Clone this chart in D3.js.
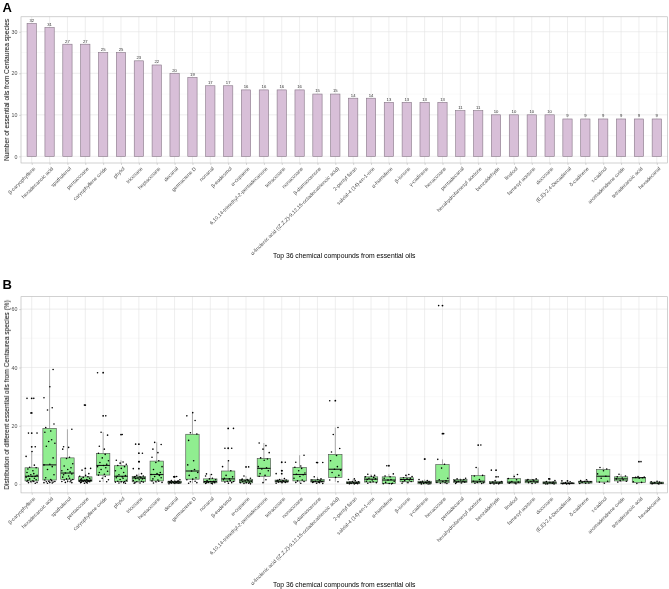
<!DOCTYPE html>
<html>
<head>
<meta charset="utf-8">
<script src="https://cdn.jsdelivr.net/npm/d3@7"></script>
<style>
  body { margin: 0; background: #fff; }
  text { font-family: "Liberation Sans", Arial, sans-serif; }
  .labels { opacity: 0.999; will-change: transform; }
</style>
</head>
<body>
<svg id="chart"></svg>
<script>
// compounds, in the order of the bars
const compounds = [
  'β-caryophyllene', 'hexadecanoic acid', 'spathulenol', 'pentacosane', 'caryophyllene oxide',
  'phytol', 'tricosane', 'heptacosane', 'decanal', 'germacrene D', 'nonanal', 'β-eudesmol',
  'α-copaene', '6,10,14-trimethyl-2-pentadecanone', 'tetracosane', 'nonacosane', 'β-damascenone',
  'α-linolenic acid ((Z,Z,Z)-9,12,15-octadecatrienoic acid)', '2-pentyl furan', 'salvial-4 (14)-en-1-one',
  'α-humulene', 'β-ionone', 'γ-cadinene', 'hexacosane', 'pentadecanal', 'hexahydrofarnesyl acetone',
  'benzaldehyde', 'linalool', 'farnesyl acetone', 'docosane', '(E,E)-2,4-Decadienal', 'δ-cadinene',
  'τ-cadinol', 'aromadendrene oxide', 'tetradecanoic acid', 'hexadecanal'
];

// panel A: number of oils containing each compound
const oilCounts = [32, 31, 27, 27, 25, 25, 23, 22, 20, 19, 17, 17, 16, 16, 16, 16, 15, 15,
  14, 14, 13, 13, 13, 13, 11, 11, 10, 10, 10, 10, 9, 9, 9, 9, 9, 9];

// panel B: box stats (%)
const boxLow    = [0.3, 0.3, 0.5, 0.3, 0.8, 0.3, 0.3, 0.4, 0.1, 0.3, 0.1, 0.3, 0.1, 0.5, 0.3, 0.3, 0.2, 0.8,
  0.05, 0.3, 0.1, 0.3, 0.05, 0.2, 0.2, 0.2, 0.05, 0.1, 0.2, 0.05, 0.05, 0.2, 0.3, 0.7, 0.2, 0.05];
const boxQ1     = [1.1, 1.4, 1.6, 0.9, 3.1, 0.9, 0.8, 1.1, 0.35, 1.7, 0.45, 1.0, 0.45, 2.7, 0.7, 1.1, 0.7, 2.3,
  0.15, 0.7, 0.2, 0.8, 0.1, 0.45, 0.6, 0.45, 0.2, 0.35, 0.45, 0.1, 0.1, 0.35, 0.7, 1.1, 0.6, 0.1];
const boxMedian = [2.7, 6.6, 3.8, 1.3, 6.4, 2.7, 2.1, 3.3, 0.7, 4.5, 0.9, 1.8, 1.1, 5.4, 1.0, 3.3, 1.0, 5.1,
  0.45, 1.7, 1.4, 1.6, 0.6, 1.1, 1.0, 1.0, 0.45, 0.7, 1.0, 0.45, 0.25, 0.8, 2.7, 1.8, 2.2, 0.35];
const boxQ3     = [5.6, 19.1, 9.0, 2.5, 10.5, 6.3, 2.6, 7.9, 1.0, 17.1, 1.8, 4.5, 1.6, 8.8, 1.4, 5.7, 1.6, 10.2,
  0.8, 2.5, 2.5, 2.2, 1.0, 6.7, 1.6, 2.9, 0.9, 1.9, 1.5, 0.8, 0.45, 1.0, 5.0, 2.5, 2.3, 0.7];
const boxHigh   = [11.2, 39.3, 18.8, 4.8, 17.8, 8.2, 3.6, 14.3, 1.5, 24.5, 3.5, 8.0, 2.8, 14.1, 1.9, 9.9, 2.5, 19.4,
  1.8, 3.4, 3.5, 3.3, 1.6, 8.5, 2.0, 5.7, 1.2, 3.3, 1.8, 1.2, 0.8, 1.5, 5.7, 3.4, 2.6, 1.0];

const outlierValues = [
  [12.8, 17.5, 24.4, 29.4], [], [], [5.4, 27.1], [23.4, 38.2], [17.0], [5.3, 7.7, 10.6, 13.7], [],
  [2.5, 2.6], [], [], [12.3, 19.1], [5.9], [], [3.6, 4.6, 7.5], [], [7.4], [28.6],
  [], [], [6.3], [], [8.6], [17.3, 61.2], [], [13.4], [2.5, 4.8], [], [], [1.8], [1.1], [],
  [], [], [7.7], []
];

// panel B: individual oils (%)
const sharePoints = [
  [29.4, 29.4, 24.4, 17.5, 17.5, 12.8, 11.2, 9.5, 6.5, 5.8, 5.6, 5.2, 4.6, 4.0, 3.6, 3.2, 3.0, 2.8, 2.7, 2.6, 2.4, 2.0, 1.8, 1.5, 1.3, 1.1, 1.0, 0.9, 0.8, 0.6, 0.5, 0.3],
  [39.3, 33.4, 29.6, 26.2, 25.4, 20.6, 19.4, 18.2, 17.8, 15.2, 14.6, 14.0, 13.0, 9.0, 6.8, 6.6, 6.0, 5.0, 3.2, 2.2, 1.6, 1.4, 1.2, 1.0, 0.9, 0.8, 0.7, 0.6, 0.5, 0.4, 0.3],
  [18.8, 12.8, 12.6, 12.0, 9.2, 8.8, 7.0, 6.2, 5.6, 5.0, 4.6, 4.2, 3.8, 3.5, 3.2, 2.8, 2.4, 2.0, 1.8, 1.6, 1.4, 1.2, 1.0, 0.9, 0.8, 0.6, 0.5],
  [27.1, 5.4, 4.8, 3.6, 3.0, 2.7, 2.5, 2.3, 2.0, 1.8, 1.6, 1.5, 1.4, 1.3, 1.3, 1.2, 1.1, 1.0, 1.0, 0.9, 0.9, 0.8, 0.7, 0.6, 0.5, 0.4, 0.3],
  [38.2, 23.4, 17.8, 16.8, 13.0, 12.0, 10.6, 10.2, 9.0, 8.0, 7.4, 6.8, 6.4, 6.0, 5.6, 5.0, 4.4, 4.0, 3.4, 3.1, 2.6, 2.0, 1.5, 1.0, 0.8],
  [17.0, 8.2, 7.6, 7.2, 6.8, 6.4, 6.0, 5.4, 4.6, 4.0, 3.2, 2.9, 2.7, 2.5, 2.2, 2.0, 1.6, 1.3, 1.0, 0.9, 0.8, 0.7, 0.5, 0.4, 0.3],
  [13.7, 10.6, 7.7, 5.3, 3.6, 3.0, 2.8, 2.6, 2.5, 2.4, 2.2, 2.1, 2.0, 1.9, 1.8, 1.5, 1.2, 1.0, 0.8, 0.7, 0.5, 0.4, 0.3],
  [14.3, 13.6, 12.0, 10.8, 9.2, 8.0, 7.4, 6.0, 5.0, 4.0, 3.6, 3.3, 3.0, 2.6, 2.2, 1.8, 1.4, 1.1, 1.0, 0.8, 0.6, 0.4],
  [2.6, 2.5, 1.5, 1.2, 1.1, 1.0, 0.9, 0.9, 0.8, 0.8, 0.7, 0.7, 0.6, 0.5, 0.5, 0.4, 0.35, 0.3, 0.2, 0.1],
  [24.5, 23.4, 21.8, 17.6, 17.2, 15.0, 8.0, 6.6, 5.0, 4.5, 4.0, 3.0, 2.2, 1.7, 1.5, 1.0, 0.8, 0.5, 0.3],
  [3.5, 3.3, 2.8, 2.0, 1.8, 1.5, 1.2, 1.0, 0.9, 0.8, 0.7, 0.6, 0.5, 0.45, 0.3, 0.2, 0.1],
  [19.1, 12.3, 12.3, 8.0, 6.0, 4.6, 3.0, 2.5, 2.0, 1.8, 1.5, 1.2, 1.0, 0.9, 0.7, 0.5, 0.3],
  [5.9, 2.8, 2.0, 1.7, 1.6, 1.4, 1.2, 1.1, 1.0, 0.9, 0.7, 0.5, 0.45, 0.3, 0.2, 0.1],
  [14.1, 13.2, 12.0, 10.8, 9.0, 8.6, 8.2, 6.0, 5.6, 5.2, 4.6, 3.6, 3.0, 2.7, 1.5, 0.5],
  [7.5, 4.6, 3.6, 1.9, 1.6, 1.4, 1.3, 1.2, 1.1, 1.0, 0.9, 0.8, 0.7, 0.6, 0.5, 0.3],
  [9.9, 7.5, 6.2, 5.8, 5.4, 4.6, 3.8, 3.4, 3.2, 2.6, 2.0, 1.4, 1.1, 0.9, 0.6, 0.3],
  [7.4, 7.4, 2.5, 1.8, 1.6, 1.4, 1.2, 1.0, 0.9, 0.8, 0.7, 0.6, 0.5, 0.3, 0.2],
  [28.6, 19.4, 17.0, 12.2, 11.0, 9.8, 8.0, 6.0, 5.1, 4.8, 4.0, 3.0, 2.3, 1.4, 0.8],
  [1.8, 1.6, 1.2, 0.9, 0.8, 0.7, 0.5, 0.45, 0.4, 0.3, 0.2, 0.15, 0.1, 0.05],
  [3.4, 3.0, 2.7, 2.5, 2.3, 2.0, 1.8, 1.6, 1.4, 1.0, 0.8, 0.7, 0.5, 0.3],
  [6.3, 3.5, 2.8, 2.5, 2.0, 1.6, 1.4, 1.0, 0.6, 0.3, 0.2, 0.15, 0.1],
  [3.3, 3.0, 2.6, 2.2, 2.0, 1.8, 1.6, 1.4, 1.2, 0.9, 0.8, 0.5, 0.3],
  [8.6, 1.6, 1.2, 1.0, 0.9, 0.7, 0.6, 0.5, 0.4, 0.2, 0.1, 0.08, 0.05],
  [61.2, 17.3, 8.5, 6.8, 5.5, 2.0, 1.5, 1.1, 0.9, 0.6, 0.45, 0.3, 0.2],
  [2.0, 1.8, 1.6, 1.4, 1.2, 1.0, 0.9, 0.7, 0.6, 0.4, 0.2],
  [13.4, 5.7, 3.0, 2.8, 1.6, 1.0, 0.9, 0.6, 0.45, 0.3, 0.2],
  [4.8, 2.5, 1.2, 0.9, 0.7, 0.5, 0.4, 0.2, 0.1, 0.05],
  [3.3, 2.6, 1.9, 1.5, 0.9, 0.7, 0.6, 0.4, 0.3, 0.1],
  [1.8, 1.6, 1.5, 1.3, 1.1, 0.9, 0.7, 0.5, 0.4, 0.2],
  [1.8, 1.2, 0.9, 0.7, 0.5, 0.4, 0.3, 0.1, 0.08, 0.05],
  [1.1, 0.8, 0.5, 0.4, 0.3, 0.25, 0.15, 0.1, 0.05],
  [1.5, 1.2, 1.0, 0.9, 0.8, 0.6, 0.4, 0.3, 0.2],
  [5.7, 5.2, 4.6, 3.5, 2.7, 2.0, 1.0, 0.7, 0.3],
  [3.4, 2.8, 2.5, 2.1, 1.8, 1.5, 1.2, 1.0, 0.7],
  [7.7, 2.6, 2.4, 2.3, 2.2, 2.0, 0.8, 0.6, 0.2],
  [1.0, 0.8, 0.7, 0.5, 0.35, 0.3, 0.2, 0.1, 0.05]
];

const countTicks = [0, 10, 20, 30];
const countMinor = [5, 15, 25];
const shareTicks = [0, 20, 40, 60];
const shareMinor = [10, 30, 50];

// fixed (non-random) horizontal spread used for the jittered dots
const jitterPattern = [-0.8, 0.35, -0.15, 0.9, -0.55, 0.6, 0.05, -0.95, 0.45, -0.35, 0.75, -0.65, 0.2];

const width = 669;
const height = 589;
const left = 21, right = 667.5;

const svg = d3.select('#chart')
  .attr('width', width)
  .attr('height', height)
  .attr('viewBox', [0, 0, width, height]);

svg.append('rect').attr('width', width).attr('height', height).attr('fill', '#fff');

const xScale = d3.scalePoint()
  .domain(compounds)
  .range([left, right])
  .padding(0.6);
const step = xScale.step();

// draws the panel frame, grid, axes and labels shared by A and B
function drawFrame(g, yScale, top, bottom, ticks, minor, yTitle, xTitleY) {
  g.append('g').selectAll('line').data(minor).join('line')
    .attr('x1', left).attr('x2', right)
    .attr('y1', d => yScale(d)).attr('y2', d => yScale(d))
    .attr('stroke', '#efefef').attr('stroke-width', 0.4);
  g.append('g').selectAll('line').data(ticks).join('line')
    .attr('x1', left).attr('x2', right)
    .attr('y1', d => yScale(d)).attr('y2', d => yScale(d))
    .attr('stroke', '#e2e2e2').attr('stroke-width', 0.6);
  g.append('g').selectAll('line').data(compounds).join('line')
    .attr('x1', d => xScale(d)).attr('x2', d => xScale(d))
    .attr('y1', top).attr('y2', bottom)
    .attr('stroke', '#e2e2e2').attr('stroke-width', 0.6);

  // y axis
  const yAxis = g.append('g')
    .attr('class', 'labels')
    .attr('transform', `translate(${left},0)`)
    .call(d3.axisLeft(yScale).tickValues(ticks).tickSize(2).tickPadding(1.5));
  yAxis.select('.domain').remove();
  yAxis.selectAll('line').attr('stroke', '#b3b3b3').attr('stroke-width', 0.5);
  yAxis.selectAll('text').attr('fill', '#4d4d4d').attr('font-size', 5.3)
    .attr('font-family', '"Liberation Sans", Arial, sans-serif');

  // x axis
  const xAxis = g.append('g')
    .attr('transform', `translate(0,${bottom})`)
    .call(d3.axisBottom(xScale).tickSize(2).tickFormat(''));
  xAxis.select('.domain').remove();
  xAxis.selectAll('line').attr('stroke', '#b3b3b3').attr('stroke-width', 0.5);

  g.append('g').attr('class', 'labels')
    .selectAll('text').data(compounds).join('text')
    .attr('transform', d => `translate(${xScale(d) + 1.5},${bottom + 3.5}) rotate(-45)`)
    .attr('text-anchor', 'end')
    .attr('dy', '0.7em')
    .attr('font-size', 5.1)
    .attr('fill', '#4d4d4d')
    .text(d => d);

  g.append('rect')
    .attr('x', left).attr('y', top)
    .attr('width', right - left).attr('height', bottom - top)
    .attr('fill', 'none').attr('stroke', '#b3b3b3').attr('stroke-width', 0.6);

  g.append('text')
    .attr('class', 'labels')
    .attr('transform', `translate(9,${(top + bottom) / 2}) rotate(-90)`)
    .attr('text-anchor', 'middle')
    .attr('font-size', 6.6)
    .attr('fill', '#000')
    .text(yTitle);

  g.append('text')
    .attr('class', 'labels')
    .attr('x', (left + right) / 2).attr('y', xTitleY)
    .attr('text-anchor', 'middle')
    .attr('font-size', 6.8)
    .attr('fill', '#000')
    .text('Top 36 chemical compounds from essential oils');
}

// ---------- panel A ----------
const aTop = 16.8, aBottom = 163;
const yCount = d3.scaleLinear()
  .domain([-0.05 * d3.max(oilCounts), d3.max(oilCounts) * 1.05])
  .range([aBottom, aTop]);

const panelA = svg.append('g');
drawFrame(panelA, yCount, aTop, aBottom, countTicks, countMinor,
  'Number of essential oils from Centaurea species', 258);

panelA.append('g').selectAll('rect').data(compounds).join('rect')
  .attr('x', d => xScale(d) - step * 0.26)
  .attr('width', step * 0.52)
  .attr('y', (d, i) => yCount(oilCounts[i]))
  .attr('height', (d, i) => yCount(0) - yCount(oilCounts[i]))
  .attr('fill', '#D8BFD8')
  .attr('stroke', '#857585')
  .attr('stroke-width', 0.6);

panelA.append('g').attr('class', 'labels')
  .selectAll('text').data(compounds).join('text')
  .attr('x', d => xScale(d))
  .attr('y', (d, i) => yCount(oilCounts[i]) - 1.6)
  .attr('text-anchor', 'middle')
  .attr('font-size', 4.2)
  .attr('fill', '#333')
  .text((d, i) => oilCounts[i]);

svg.append('text').attr('x', 2.5).attr('y', 11.5)
  .attr('font-size', 13).attr('font-weight', 'bold').text('A');

// ---------- panel B ----------
const bTop = 296.7, bBottom = 492.9;
const allShares = sharePoints.flat();
const shareMax = d3.max(allShares), shareMin = d3.min(allShares);
const shareSpan = shareMax - shareMin;
const yShare = d3.scaleLinear()
  .domain([shareMin - 0.05 * shareSpan, shareMax + 0.05 * shareSpan])
  .range([bBottom, bTop]);

const panelB = svg.append('g');
drawFrame(panelB, yShare, bTop, bBottom, shareTicks, shareMinor,
  'Distribution of different essential oils from Centaurea species (%)', 586.5);

const boxW = step * 0.75;
const boxes = panelB.append('g').selectAll('g').data(compounds).join('g');

boxes.append('line')
  .attr('x1', d => xScale(d)).attr('x2', d => xScale(d))
  .attr('y1', (d, i) => yShare(boxQ3[i])).attr('y2', (d, i) => yShare(boxHigh[i]))
  .attr('stroke', '#7a7a7a').attr('stroke-width', 0.6);
boxes.append('line')
  .attr('x1', d => xScale(d)).attr('x2', d => xScale(d))
  .attr('y1', (d, i) => yShare(boxQ1[i])).attr('y2', (d, i) => yShare(boxLow[i]))
  .attr('stroke', '#7a7a7a').attr('stroke-width', 0.6);
boxes.append('rect')
  .attr('x', d => xScale(d) - boxW / 2)
  .attr('width', boxW)
  .attr('y', (d, i) => yShare(boxQ3[i]))
  .attr('height', (d, i) => Math.max(0.6, yShare(boxQ1[i]) - yShare(boxQ3[i])))
  .attr('fill', '#90EE90')
  .attr('stroke', '#4a4a4a')
  .attr('stroke-width', 0.6);
boxes.append('line')
  .attr('x1', d => xScale(d) - boxW / 2).attr('x2', d => xScale(d) + boxW / 2)
  .attr('y1', (d, i) => yShare(boxMedian[i])).attr('y2', (d, i) => yShare(boxMedian[i]))
  .attr('stroke', '#1a1a1a').attr('stroke-width', 1.1);

// outliers at the box centre
boxes.each(function (d, i) {
  d3.select(this).selectAll('circle.out').data(outlierValues[i]).join('circle')
    .attr('class', 'out')
    .attr('cx', xScale(d))
    .attr('cy', v => yShare(v))
    .attr('r', 0.9)
    .attr('fill', '#000');
});

// jittered dots
boxes.each(function (d, i) {
  d3.select(this).selectAll('circle.pt').data(sharePoints[i]).join('circle')
    .attr('class', 'pt')
    .attr('cx', (v, j) => xScale(d) + jitterPattern[(j + i * 5) % jitterPattern.length] * step * 0.33)
    .attr('cy', v => yShare(v))
    .attr('r', 0.8)
    .attr('fill', '#000');
});

svg.append('text').attr('x', 2.5).attr('y', 288.5)
  .attr('font-size', 13).attr('font-weight', 'bold').text('B');
</script>
</body>
</html>
